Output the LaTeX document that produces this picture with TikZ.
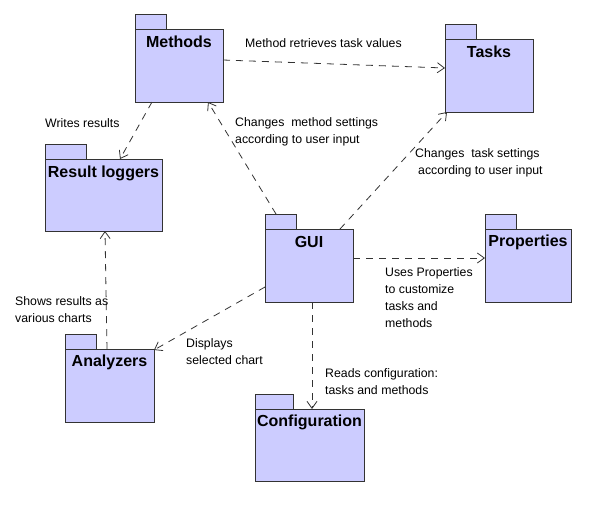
\documentclass[tikz,border=0pt]{standalone}
\usepackage{fontspec}
\setmainfont{Liberation Sans}
\usetikzlibrary{arrows.meta,calc}
\definecolor{pkgfill}{RGB}{204,204,255}
\definecolor{pkgline}{RGB}{51,51,51}
\begin{document}
\begin{tikzpicture}[x=1pt,y=-1pt,
  pkgbody/.style={draw=pkgline, fill=pkgfill, line width=1pt, inner sep=0pt, outer sep=0pt, anchor=north west},
  pkgtab/.style={draw=pkgline, fill=pkgfill, line width=1pt},
  pkgtitle/.style={font=\fontsize{16}{19}\selectfont\bfseries, inner sep=0pt, anchor=center},
  dep/.style={draw=pkgline, line width=0.8pt, dash pattern=on 7pt off 6pt, -{Straight Barb[length=7pt,width=10pt]}},
  lbl/.style={font=\fontsize{12.3}{17}\selectfont, align=left, inner sep=0pt, anchor=north west}]
\fill[white] (0,0) rectangle (592,504);
\useasboundingbox (0,0) rectangle (592,504);

% packages
\node[pkgbody, minimum width=88pt, minimum height=73pt] (methods) at (135,29) {};
\draw[pkgtab] (methods.north west) rectangle ++(31,-15);
\node[pkgtitle] (methodsT) at ($(methods.north)+(0,13)$) {Methods};

\node[pkgbody, minimum width=88pt, minimum height=73pt] (tasks) at (445,39) {};
\draw[pkgtab] (tasks.north west) rectangle ++(31,-15);
\node[pkgtitle] (tasksT) at ($(tasks.north)+(0,13)$) {Tasks};

\node[pkgbody, minimum width=117pt, minimum height=72pt] (results) at (45,159) {};
\draw[pkgtab] (results.north west) rectangle ++(41,-15);
\node[pkgtitle] (resultsT) at ($(results.north)+(0,14)$) {Result loggers};

\node[pkgbody, minimum width=88pt, minimum height=73pt] (gui) at (265,229) {};
\draw[pkgtab] (gui.north west) rectangle ++(31,-15);
\node[pkgtitle] (guiT) at ($(gui.north)+(0,13)$) {GUI};

\node[pkgbody, minimum width=86pt, minimum height=73pt] (props) at (485,229) {};
\draw[pkgtab] (props.north west) rectangle ++(31,-15);
\node[pkgtitle] (propsT) at ($(props.north)+(0,13)$) {Properties};

\node[pkgbody, minimum width=89pt, minimum height=73pt] (analyzers) at (65,349) {};
\draw[pkgtab] (analyzers.north west) rectangle ++(31,-15);
\node[pkgtitle] (analyzersT) at ($(analyzers.north)+(0,13)$) {Analyzers};

\node[pkgbody, minimum width=109pt, minimum height=72pt] (config) at (255,409) {};
\draw[pkgtab] (config.north west) rectangle ++(38,-15);
\node[pkgtitle] (configT) at ($(config.north)+(0,13)$) {Configuration};

% dependencies
\draw[dep] ($(methods.east)+(0,-5.5)$) -- ($(tasks.west)+(0,-7.5)$);
\draw[dep] ($(methods.south)+(-27,0)$) -- ($(results.north)+(16.5,0)$);
\draw[dep] ($(gui.north west)+(11,-15)$) -- ($(methods.south)+(29,0)$);
\draw[dep] ($(gui.north east)+(-13,0)$) -- ($(tasks.south west)+(2,0)$);
\draw[dep] ($(gui.east)+(0,-7.5)$) -- ($(props.west)+(0,-7.5)$);
\draw[dep] ($(gui.west)+(0,21.5)$) -- ($(analyzers.north east)+(0,1)$);
\draw[dep] ($(gui.south)+(3,0)$) -- ($(config.north)+(2.5,0)$);
\draw[dep] ($(analyzers.north)+(-2.5,0)$) -- ($(results.south)+(1.5,0)$);

% labels
\node[lbl] (l1) at (245,38) {Method retrieves task values};
\node[lbl] (l2) at (45,118) {Writes results};
\node[lbl] (l3) at (235,117) {Changes~ method settings\\according to user input};
\node[lbl] (l4) at (415,148) {Changes~ task settings\\\hspace*{3pt}according to user input};
\node[lbl] (l5) at (385,267) {Uses Properties\\to customize\\tasks and\\methods};
\node[lbl] (l6) at (15,296) {Shows results as\\various charts};
\node[lbl] (l7) at (186,338) {Displays\\selected chart};
\node[lbl] (l8) at (325,368) {Reads configuration:\\tasks and methods};
\end{tikzpicture}
\end{document}
